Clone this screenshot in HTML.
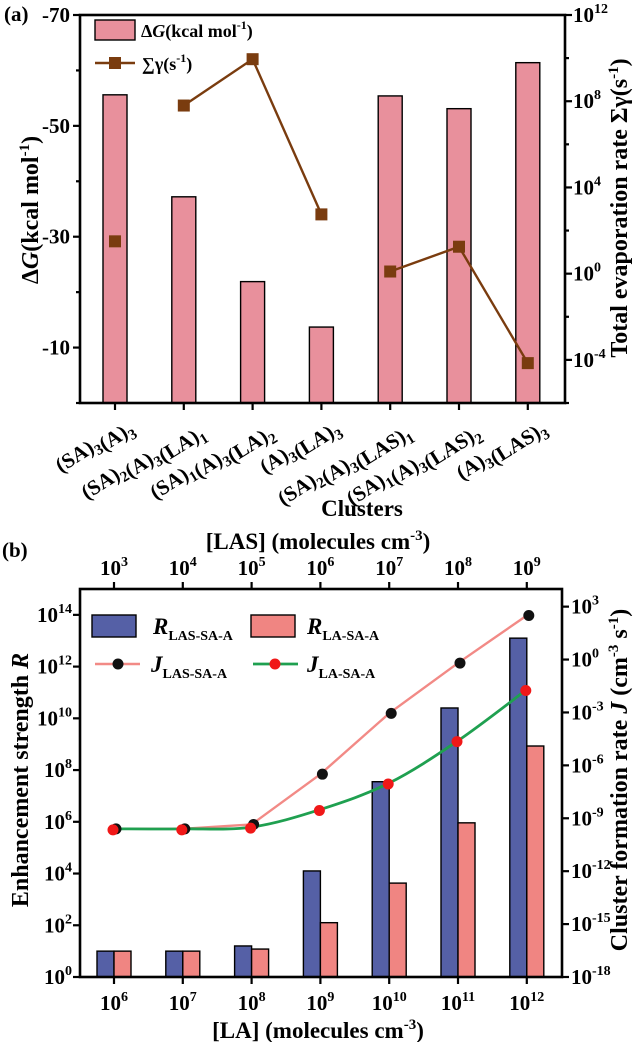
<!DOCTYPE html>
<html><head><meta charset="utf-8"><style>
body{margin:0;background:#fff}
svg{display:block}
svg text{font-family:"Liberation Serif","Times New Roman",serif;font-weight:bold}
</style></head><body>
<svg id="s" width="634" height="1042" viewBox="0 0 634 1042" font-family="Liberation Serif, serif" font-weight="bold"></svg>
<script>
// ---- Chart (a) data ----
const clustersA = ["(SA)3(A)3","(SA)2(A)3(LA)1","(SA)1(A)3(LA)2","(A)3(LA)3","(SA)2(A)3(LAS)1","(SA)1(A)3(LAS)2","(A)3(LAS)3"];
const dGValues = [-55.6,-37.2,-21.9,-13.7,-55.4,-53.1,-61.4];
const gammaLog = [1.5,7.8,9.95,2.75,0.1,1.25,-4.15];
const gammaSegments = [[0],[1,2,3],[4,5,6]];
const dGTicks = [-70,-50,-30,-10];
const gammaTicks = [12,8,4,0,-4];
// ---- Chart (b) data ----
const laLog = [6,7,8,9,10,11,12];
const lasLog = [3,4,5,6,7,8,9];
const rLAS = [1.0,1.0,1.2,4.1,7.55,10.4,13.1];
const rLA = [1.0,1.0,1.08,2.1,3.63,5.96,8.93];
const jLAS = [-9.6,-9.6,-9.35,-6.5,-3.05,-0.2,2.5];
const jLA = [-9.6,-9.6,-9.5,-8.5,-7.0,-4.6,-1.7];
const rTicks = [0,2,4,6,8,10,12,14];
const jTicks = [3,0,-3,-6,-9,-12,-15,-18];

const NS="http://www.w3.org/2000/svg";
const svg=document.getElementById('s');
function mk(tag,attrs,parent){const e=document.createElementNS(NS,tag);for(const k in attrs)e.setAttribute(k,attrs[k]);(parent||svg).appendChild(e);return e;}
function txt(x,y,html,size,anchor,extra){const t=mk('text',Object.assign({x:x,y:y,'font-size':size,'text-anchor':anchor||'middle',fill:'#000','font-family':'Liberation Serif, serif','font-weight':'bold'},extra||{}));t.innerHTML=html;return t;}
function sup(b,e,fs){return b+'<tspan dy="-9" font-size="'+fs+'">'+e+'</tspan>';}
function subLabel(s){return s.replace(/\)(\d)/g,')<tspan dy="5" font-size="15">$1</tspan><tspan dy="-5"></tspan>');}

// ========== Chart (a) ==========
const aL=80,aR=565,aT=15,aB=403;
const aX=i=>115+i*68.8;
const aY=v=>aB+(v/70)*(aB-aT);
const aY2=v=>aB-(v+6)/18*(aB-aT);
let t=txt(4,21,'(a)',21,'start');

clustersA.forEach((c,i)=>{
  const r=mk('rect',{x:aX(i)-12,y:aY(dGValues[i]),width:24,height:aB-aY(dGValues[i]),fill:'#e8909c',stroke:'#000','stroke-width':1.4});
  
  
});
gammaSegments.forEach((seg,k)=>{
  if(seg.length>1){const p=mk('polyline',{points:seg.map(i=>aX(i)+','+aY2(gammaLog[i])).join(' '),fill:'none',stroke:'#7a3c0f','stroke-width':2.4});
  
  }
});
gammaLog.forEach((v,i)=>{
  const r=mk('rect',{x:aX(i)-6,y:aY2(v)-6,width:12,height:12,fill:'#7a3c0f'});
  
  
});
let fr=mk('rect',{x:aL,y:aT,width:aR-aL,height:aB-aT,fill:'none',stroke:'#000','stroke-width':2.6});

dGTicks.forEach(v=>{mk('line',{x1:aL-7,x2:aL,y1:aY(v),y2:aY(v),stroke:'#000','stroke-width':2.2});
  const l=txt(aL-10,aY(v)+7,String(v),21,'end');});
[-60,-40,-20,0].forEach(v=>mk('line',{x1:aL-4,x2:aL,y1:aY(v),y2:aY(v),stroke:'#000','stroke-width':2.2}));
for(let v=-6;v<=12;v+=2){mk('line',{x1:aR,x2:aR+(v%4===0?7:4),y1:aY2(v),y2:aY2(v),stroke:'#000','stroke-width':2.2});}
gammaTicks.forEach(v=>{const l=txt(aR+8,aY2(v)+7,sup('10',v,14),21,'start');});
clustersA.forEach((c,i)=>{
  mk('line',{x1:aX(i),x2:aX(i),y1:aB,y2:aB+7,stroke:'#000','stroke-width':2.2});
  const l=txt(0,0,subLabel(c),21,'end',{transform:'translate('+(aX(i)+18)+',428) rotate(-32)'});
  
});
t=txt(362,516,'Clusters',23);
t=txt(0,0,'Δ<tspan font-style="italic">G</tspan>(kcal mol<tspan dy="-9" font-size="15">-1</tspan><tspan dy="9">)</tspan>',24,'middle',{transform:'translate(38,210) rotate(-90)'});

t=txt(0,0,'Total evaporation rate Σγ(s<tspan dy="-9" font-size="15">-1</tspan><tspan dy="9">)</tspan>',24,'middle',{transform:'translate(627,208) rotate(-90)'});

let g=mk('rect',{x:95,y:20,width:40,height:20,fill:'#e8909c',stroke:'#000','stroke-width':1.4});

t=txt(141,37,'Δ<tspan font-style="italic">G</tspan>(kcal mol<tspan dy="-8" font-size="12">-1</tspan><tspan dy="8">)</tspan>',18,'start');

mk('line',{x1:95,x2:135,y1:63,y2:63,stroke:'#7a3c0f','stroke-width':2.4});
g=mk('rect',{x:109,y:57,width:12,height:12,fill:'#7a3c0f'});

t=txt(142,70,'∑γ(s<tspan dy="-8" font-size="12">-1</tspan><tspan dy="8">)</tspan>',18,'start');


// ========== Chart (b) ==========
const bL=80,bR=562,bT=589,bB=977;
const bX=i=>114+i*68.8;
const bY=v=>bB-v/15*(bB-bT);
const bY2=v=>bB-(v+18)/22*(bB-bT);
t=txt(2,557,'(b)',21,'start');
laLog.forEach((c,i)=>{
  let r=mk('rect',{x:bX(i)-17,y:bY(rLAS[i]),width:17,height:bB-bY(rLAS[i]),fill:'#5560a6',stroke:'#000','stroke-width':1.4});
  
  r=mk('rect',{x:bX(i),y:bY(rLA[i]),width:17,height:bB-bY(rLA[i]),fill:'#f08582',stroke:'#000','stroke-width':1.4});
  
});
function smooth(vals){const p=vals.map((v,i)=>[bX(i),bY2(v)]);let d='M'+p[0][0]+','+p[0][1];
  for(let i=0;i<p.length-1;i++){const p0=p[Math.max(0,i-1)],p1=p[i],p2=p[i+1],p3=p[Math.min(p.length-1,i+2)];
  const c1=[p1[0]+(p2[0]-p0[0])/6,p1[1]+(p2[1]-p0[1])/6],c2=[p2[0]-(p3[0]-p1[0])/6,p2[1]-(p3[1]-p1[1])/6];
  d+=' C'+c1+' '+c2+' '+p2;}return d;}
let ln=mk('polyline',{points:jLAS.map((v,i)=>bX(i)+','+bY2(v)).join(' '),fill:'none',stroke:'#f28a86','stroke-width':2.4});

ln=mk('path',{d:smooth(jLA),fill:'none',stroke:'#1fa050','stroke-width':2.8});

jLAS.forEach((v,i)=>{const c=mk('circle',{cx:bX(i)+2,cy:bY2(v),r:5.5,fill:'#111'});
  });
jLA.forEach((v,i)=>{const c=mk('circle',{cx:bX(i)-1,cy:bY2(v)+1,r:5.5,fill:'#f01818'});
  });
fr=mk('rect',{x:bL,y:bT,width:bR-bL,height:bB-bT,fill:'none',stroke:'#000','stroke-width':2.6});

rTicks.forEach(v=>{mk('line',{x1:bL-7,x2:bL,y1:bY(v),y2:bY(v),stroke:'#000','stroke-width':2.2});
  const l=txt(bL-8,bY(v)+7,sup('10',v,14),21,'end');});
jTicks.forEach(v=>{mk('line',{x1:bR,x2:bR+7,y1:bY2(v),y2:bY2(v),stroke:'#000','stroke-width':2.2});
  const l=txt(bR+9,bY2(v)+7,sup('10',v,14),21,'start');});
laLog.forEach((v,i)=>{mk('line',{x1:bX(i),x2:bX(i),y1:bB,y2:bB+7,stroke:'#000','stroke-width':2.2});
  const l=txt(bX(i),1010,sup('10',v,14),21);});
lasLog.forEach((v,i)=>{mk('line',{x1:bX(i),x2:bX(i),y1:bT-7,y2:bT,stroke:'#000','stroke-width':2.2});
  const l=txt(bX(i),575,sup('10',v,14),21);});
t=txt(318,1038,'[LA] (molecules cm<tspan dy="-9" font-size="15">-3</tspan><tspan dy="9">)</tspan>',23);

t=txt(318,549,'[LAS] (molecules cm<tspan dy="-9" font-size="15">-3</tspan><tspan dy="9">)</tspan>',23);

t=txt(0,0,'Enhancement strength <tspan font-style="italic">R</tspan>',24,'middle',{transform:'translate(28,780) rotate(-90)'});

t=txt(0,0,'Cluster formation rate <tspan font-style="italic">J</tspan> (cm<tspan dy="-9" font-size="15">-3</tspan><tspan dy="9"> s</tspan><tspan dy="-9" font-size="15">-1</tspan><tspan dy="9">)</tspan>',24,'middle',{transform:'translate(627,780) rotate(-90)'});

g=mk('rect',{x:92,y:615,width:44,height:22,fill:'#5560a6',stroke:'#000','stroke-width':1.4});

t=txt(153,634,'<tspan font-style="italic">R</tspan><tspan dy="6" font-size="14">LAS-SA-A</tspan>',23,'start');

g=mk('rect',{x:251,y:615,width:44,height:22,fill:'#f08582',stroke:'#000','stroke-width':1.4});

t=txt(307,634,'<tspan font-style="italic">R</tspan><tspan dy="6" font-size="14">LA-SA-A</tspan>',23,'start');

mk('line',{x1:95,x2:140,y1:664,y2:664,stroke:'#f28a86','stroke-width':2.4});
g=mk('circle',{cx:118,cy:664,r:5.5,fill:'#111'});
t=txt(151,672,'<tspan font-style="italic">J</tspan><tspan dy="6" font-size="14">LAS-SA-A</tspan>',23,'start');

mk('line',{x1:253,x2:298,y1:664,y2:664,stroke:'#1fa050','stroke-width':2.8});
g=mk('circle',{cx:275,cy:664,r:5.5,fill:'#f01818'});
t=txt(307,672,'<tspan font-style="italic">J</tspan><tspan dy="6" font-size="14">LA-SA-A</tspan>',23,'start');

</script>
</body></html>
